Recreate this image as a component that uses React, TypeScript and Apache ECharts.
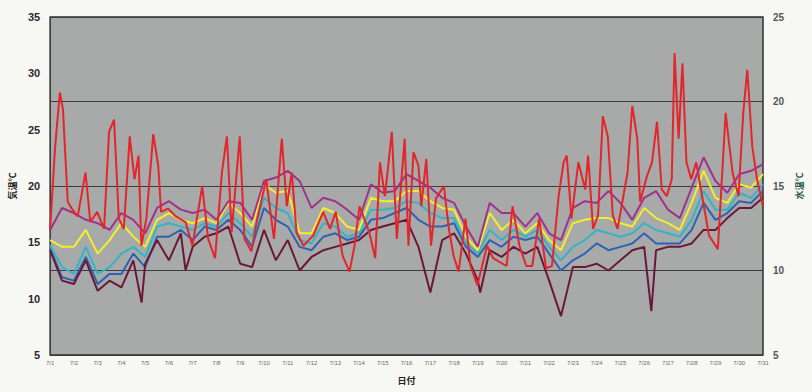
import React, { useEffect, useRef } from "react";
import * as echarts from "echarts";

const dateLabels = [
  "7/1", "7/2", "7/3", "7/4", "7/5", "7/6", "7/7", "7/8", "7/9", "7/10",
  "7/11", "7/12", "7/13", "7/14", "7/15", "7/16", "7/17", "7/18", "7/19", "7/20",
  "7/21", "7/22", "7/23", "7/24", "7/25", "7/26", "7/27", "7/28", "7/29", "7/30", "7/31",
];

// air temperature (left axis): day offset from 7/1 0:00, value in °C
const airDays = [
  0.0, 0.21, 0.41, 0.54, 0.74, 0.91, 1.16, 1.49, 1.69, 1.98, 2.27, 2.48, 2.69, 2.89, 3.1, 3.35, 3.55, 3.72, 3.84,
  4.05, 4.34, 4.55, 4.67, 4.96, 5.29, 5.7, 5.99, 6.4, 6.65, 6.94, 7.23, 7.44, 7.64, 7.98, 8.18, 8.47, 8.72, 9.09,
  9.42, 9.75, 9.96, 10.17, 10.37, 10.66, 11.07, 11.49, 11.78, 12.02, 12.31, 12.6, 12.81, 13.02, 13.43, 13.68, 13.88,
  14.09, 14.38, 14.59, 14.92, 15.08, 15.29, 15.5, 15.62, 15.83, 16.03, 16.24, 16.57, 16.78, 16.98, 17.19, 17.48,
  17.69, 17.98, 18.39, 18.64, 19.21, 19.46, 19.75, 20.04, 20.29, 20.58, 20.87, 21.12, 21.4, 21.61, 21.74, 21.94,
  22.23, 22.52, 22.64, 22.85, 23.06, 23.26, 23.47, 23.68, 23.88, 24.3, 24.5, 24.71, 24.83, 25.12, 25.33, 25.54,
  25.74, 25.95, 26.16, 26.28, 26.45, 26.61, 26.78, 26.98, 27.19, 27.48, 27.73, 28.1, 28.31, 28.43, 28.55, 28.72,
  28.97, 29.17, 29.34, 29.55, 29.75, 30.0,
];
const airTemps = [
  16.2, 23.5, 28.3, 26.8, 18.6, 18.0, 17.3, 21.2, 16.8, 17.7, 16.2, 24.8, 25.9, 17.1, 16.2, 24.4, 20.6, 22.7, 14.7,
  17.1, 24.6, 21.8, 17.7, 18.0, 17.3, 16.8, 14.7, 20.0, 15.3, 13.6, 21.2, 24.4, 15.9, 24.4, 15.3, 14.2, 17.1, 20.6,
  15.3, 24.2, 18.2, 21.2, 15.9, 14.7, 15.6, 17.7, 16.2, 17.7, 13.8, 12.4, 14.7, 18.2, 15.9, 13.6, 22.1,
  19.1, 24.8, 15.3, 24.2, 14.7, 23.0, 21.8, 18.2, 22.4, 14.7, 18.9, 20.0, 16.2, 13.8, 12.4, 17.1,
  12.9, 11.2, 14.7, 13.6, 12.9, 18.2, 14.7, 12.9, 12.9, 17.1, 12.7, 12.9, 19.1, 22.1, 22.7, 17.1,
  22.1, 19.7, 22.7, 16.2, 17.4, 26.2, 24.4, 17.4, 16.2, 21.2, 27.1, 24.2, 18.6, 20.9, 22.1, 25.7,
  19.7, 19.1, 20.6, 31.8, 24.2, 30.9, 22.1, 20.6, 22.1, 18.6, 15.6, 14.4, 22.1, 26.5, 24.2, 21.2,
  19.1, 26.5, 30.3, 23.5, 20.6, 18.2,
];

// water temperatures (right axis), one value every half day from 7/1 0:00
const waterTop = [
  12.4, 13.7, 13.4, 13.0, 12.8, 12.4, 13.4, 13.0, 12.2, 13.7, 14.1, 13.6, 13.4, 13.6, 13.0, 14.1,
  14.0, 13.0, 15.3, 15.5, 15.9, 15.3, 13.7, 14.3, 14.1, 13.6, 13.0, 15.1, 14.6, 14.7, 15.7,
  15.3, 14.9, 14.3, 14.0, 12.6, 11.4, 14.0, 13.4, 13.4, 12.6, 13.4, 12.2, 11.8, 13.7, 14.1,
  14.0, 14.7, 14.0, 13.0, 14.3, 14.7, 13.6, 13.1, 14.9, 16.7, 15.3, 14.6, 15.7, 15.9, 16.3,
];
const waterYellow = [
  11.8, 11.4, 11.4, 12.4, 11.0, 11.8, 12.8, 12.0, 11.4, 13.0, 13.4, 13.0, 12.8, 13.1, 12.8, 14.0,
  13.4, 12.6, 15.1, 14.6, 14.7, 12.2, 12.2, 13.7, 13.4, 12.6, 12.4, 14.3, 14.1, 14.1, 14.7,
  14.7, 14.1, 13.7, 13.6, 12.0, 11.2, 13.4, 12.4, 13.0, 12.2, 12.8, 11.8, 11.2, 12.8, 13.0,
  13.1, 13.1, 12.8, 12.6, 13.7, 13.1, 12.8, 12.4, 14.0, 15.9, 14.3, 14.0, 15.1, 14.9, 15.7,
];
const waterCyan = [
  11.5, 10.2, 9.8, 11.4, 9.8, 10.2, 11.0, 11.4, 10.8, 12.6, 12.8, 12.6, 12.4, 12.8, 12.6, 13.4,
  12.8, 12.0, 14.3, 13.7, 13.4, 11.8, 11.6, 12.8, 12.6, 12.0, 12.2, 13.6, 13.6, 13.7, 14.1,
  14.0, 13.4, 13.1, 13.1, 11.6, 11.0, 12.4, 11.8, 12.4, 12.0, 12.4, 11.4, 10.6, 11.4, 11.8,
  12.4, 12.2, 12.0, 12.2, 12.8, 12.4, 12.2, 12.0, 13.0, 14.7, 13.6, 13.6, 14.6, 14.3, 15.1,
];
const waterBlue = [
  11.3, 9.6, 9.4, 10.8, 9.2, 9.8, 9.8, 11.0, 10.2, 12.0, 12.0, 12.4, 11.8, 12.6, 12.4, 13.0,
  12.4, 11.4, 13.7, 13.0, 12.6, 11.4, 11.2, 12.0, 12.2, 11.8, 12.0, 13.0, 13.1, 13.4, 13.7,
  13.0, 12.6, 12.6, 12.8, 11.4, 10.8, 11.8, 11.4, 12.0, 11.8, 12.0, 11.0, 10.0, 10.6, 11.0,
  11.6, 11.2, 11.4, 11.6, 12.2, 11.6, 11.6, 11.6, 12.4, 14.0, 13.0, 13.4, 14.1, 14.0, 14.7,
];
// bottom layer, with its own sample times (sharp dips included)
const waterBottomDays = [
  0, 0.5, 1, 1.5, 2, 2.5, 3, 3.5, 3.85, 4, 4.5, 5, 5.5, 5.7, 6, 6.5, 7, 7.5, 8, 8.5, 9, 9.5, 10, 10.5, 11, 11.5,
  12, 12.5, 13, 13.5, 14, 14.5, 15, 15.5, 16, 16.5, 17, 17.5, 18, 18.1, 18.5, 19, 19.5, 20, 20.5, 21, 21.5, 22,
  22.5, 23, 23.5, 24, 24.5, 25, 25.3, 25.5, 26, 26.5, 27, 27.5, 28, 28.5, 29, 29.5, 30,
];
const waterBottom = [
  11.2, 9.4, 9.2, 10.6, 8.8, 9.4, 9.0, 10.6, 8.1, 10.4, 11.8, 10.6, 12.2, 10.0, 11.4, 12.0, 12.2, 12.6,
  10.4, 10.2, 12.4, 10.6, 11.8, 10.0, 10.8, 11.2, 11.4, 11.6, 11.8, 12.4, 12.6, 12.8, 13.0,
  11.4, 8.7, 11.8, 12.2, 11.0, 9.4, 8.7, 11.2, 10.8, 11.4, 11.0, 11.4, 9.4, 7.3, 10.2, 10.2,
  10.4, 10.0, 10.6, 11.2, 11.4, 7.6, 11.2, 11.4, 11.4, 11.6, 12.4, 12.4, 13.1, 13.7, 13.7, 14.3,
];

const halfDay = (arr: number[]) => arr.map((v, i) => [i * 0.5, v]);
const pairs = (xs: number[], ys: number[]) => xs.map((x, i) => [x, ys[i]]);

export default function App() {
  const ref = useRef<HTMLDivElement>(null);
  useEffect(() => {
    if (!ref.current) return;
    const chart = echarts.init(ref.current, null, { renderer: "svg" });
    const line = (name: string, color: string, data: number[][], yAxisIndex: number, width = 2) => ({
      name,
      type: "line",
      yAxisIndex,
      data,
      showSymbol: false,
      symbol: "none",
      lineStyle: { color, width },
      itemStyle: { color },
    });
    chart.setOption({
      animation: false,
      backgroundColor: "#f7f7f4",
      grid: {
        left: 42,
        right: 44,
        top: 17,
        bottom: 37,
        show: true,
        backgroundColor: "#a8aaa9",
        borderColor: "#2e2e2e",
        borderWidth: 1.5,
      },
      xAxis: {
        type: "value",
        min: 0,
        max: 30,
        interval: 1,
        name: "日付",
        nameLocation: "middle",
        nameGap: 21,
        nameTextStyle: { fontSize: 9, fontWeight: "bold", color: "#222", fontFamily: "Noto Sans CJK JP" },
        axisLine: { show: false },
        axisTick: { show: false },
        splitLine: { show: false },
        axisLabel: {
          formatter: (v: number) => dateLabels[v],
          fontSize: 6,
          color: "#6a6a6a",
          margin: 5,
          fontFamily: "Liberation Sans",
        },
      },
      yAxis: [
        {
          type: "value",
          min: 5,
          max: 35,
          interval: 5,
          position: "left",
          name: "気温℃",
          nameLocation: "middle",
          nameRotate: 90,
          nameGap: 28,
          nameTextStyle: { fontSize: 9, fontWeight: "bold", color: "#222", fontFamily: "Noto Sans CJK JP" },
          axisLine: { show: false },
          axisTick: { show: false },
          splitLine: { show: false },
          axisLabel: { fontSize: 11, fontWeight: "bold", color: "#2a2a2a", margin: 10, fontFamily: "Liberation Sans" },
        },
        {
          type: "value",
          min: 5,
          max: 25,
          interval: 5,
          position: "right",
          name: "水温℃",
          nameLocation: "middle",
          nameRotate: 90,
          nameGap: 30,
          nameTextStyle: { fontSize: 9, fontWeight: "bold", color: "#2f5a50", fontFamily: "Noto Sans CJK JP" },
          axisLine: { show: false },
          axisTick: { show: false },
          splitLine: { show: true, lineStyle: { color: "#3c3c3c", width: 1.2 } },
          axisLabel: { fontSize: 10, fontWeight: "bold", color: "#555", margin: 10, fontFamily: "Liberation Sans" },
        },
      ],
      series: [
        line("水温(青)", "#2f62b3", halfDay(waterBlue), 1),
        line("水温(水色)", "#2fb6c6", halfDay(waterCyan), 1),
        line("水温(黄)", "#f2ef2a", halfDay(waterYellow), 1),
        line("水温(紫)", "#a0328c", halfDay(waterTop), 1),
        line("水温(底)", "#6b1838", pairs(waterBottomDays, waterBottom), 1),
        line("気温", "#e2262c", pairs(airDays, airTemps), 0),
      ],
    });
    return () => chart.dispose();
  }, []);
  return (
    <div
      ref={ref}
      style={{ position: "fixed", left: 0, top: 0, width: 812, height: 392 }}
    />
  );
}
